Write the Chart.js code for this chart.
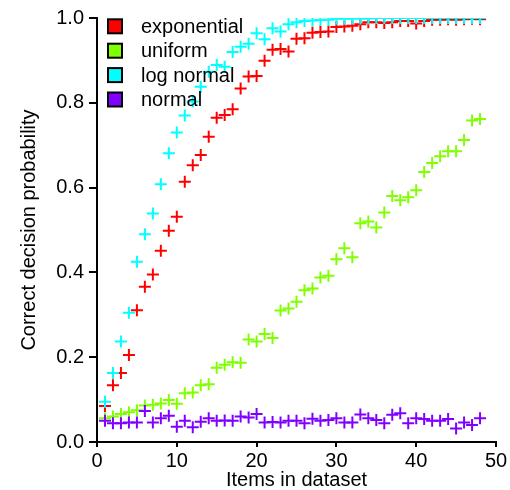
<!DOCTYPE html>
<html>
<head>
<meta charset="utf-8">
<script src="https://cdn.jsdelivr.net/npm/chart.js@4/dist/chart.umd.min.js"></script>
<style>
html,body{margin:0;padding:0;background:#fff;}
#wrap{width:510px;height:490px;}
</style>
</head>
<body>
<div id="wrap"><canvas id="c" width="510" height="490"></canvas></div>
<script>
const items = [1,2,3,4,5,6,7,8,9,10,11,12,13,14,15,16,17,18,19,20,21,22,23,24,25,26,27,28,29,30,31,32,33,34,35,36,37,38,39,40,41,42,43,44,45,46,47,48];

const seriesNames = ["exponential","uniform","log normal","normal"];

const exponential = [0.085,0.134,0.163,0.205,0.311,0.366,0.395,0.451,0.498,0.531,0.614,0.653,0.677,0.72,0.765,0.771,0.785,0.834,0.862,0.863,0.899,0.925,0.927,0.921,0.951,0.952,0.965,0.967,0.968,0.979,0.98,0.982,0.985,0.99,0.99,0.988,0.99,0.993,0.993,0.987,0.993,0.996,0.996,0.997,0.996,0.997,0.998,0.997];

const uniform = [0.056,0.06,0.066,0.07,0.075,0.086,0.088,0.091,0.099,0.09,0.115,0.117,0.134,0.136,0.175,0.182,0.188,0.187,0.242,0.237,0.255,0.245,0.31,0.315,0.331,0.358,0.362,0.388,0.392,0.431,0.457,0.436,0.516,0.52,0.506,0.541,0.58,0.57,0.577,0.594,0.637,0.658,0.674,0.686,0.686,0.712,0.758,0.762];

const logNormal = [0.095,0.163,0.237,0.305,0.425,0.49,0.539,0.608,0.681,0.73,0.77,0.803,0.838,0.873,0.889,0.885,0.92,0.932,0.939,0.964,0.95,0.976,0.968,0.985,0.99,0.993,0.994,0.995,0.996,0.998,0.998,0.999,0.999,0.999,1.0,1.0,1.0,1.0,1.0,1.0,1.0,1.0,1.0,1.0,1.0,1.0,1.0,1.0];

const normal = [0.05,0.044,0.044,0.046,0.046,0.073,0.046,0.056,0.062,0.036,0.05,0.035,0.048,0.056,0.05,0.051,0.05,0.06,0.058,0.066,0.046,0.047,0.046,0.05,0.05,0.044,0.055,0.05,0.052,0.056,0.046,0.046,0.065,0.056,0.052,0.044,0.064,0.068,0.044,0.056,0.054,0.05,0.05,0.054,0.032,0.046,0.04,0.056];

const colors = ["#ff0000","#80ff00","#00ffff","#8000ff"];
const seriesValues = [exponential, uniform, logNormal, normal];
const drawOrder = [4,3,2,1];

const xTicks = [0,10,20,30,40,50];
const yTicks = [0,0.2,0.4,0.6,0.8,1.0];

const FONT = "'Liberation Sans', Arial, Helvetica, sans-serif";

const datasets = seriesNames.map((name, i) => ({
  label: name,
  data: items.map((x, j) => ({x: x, y: seriesValues[i][j]})),
  borderColor: colors[i],
  backgroundColor: colors[i],
  pointStyle: 'cross',
  pointRadius: 6,
  pointHoverRadius: 6,
  pointBorderWidth: 2,
  pointHoverBorderWidth: 2,
  showLine: false,
  order: drawOrder[i]
}));

const legendPlugin = {
  id: 'boxLegend',
  afterDatasetsDraw(chart) {
    const ctx = chart.ctx;
    ctx.save();
    const x0 = 108, y0 = 26.3, step = 24.4, size = 14;
    ctx.font = "20px " + FONT;
    ctx.textBaseline = 'middle';
    ctx.textAlign = 'left';
    seriesNames.forEach((name, i) => {
      const cy = y0 + i * step;
      ctx.fillStyle = colors[i];
      ctx.fillRect(x0, cy - size/2, size, size);
      ctx.strokeStyle = '#000';
      ctx.lineWidth = 2;
      ctx.strokeRect(x0, cy - size/2, size, size);
      ctx.fillStyle = '#000';
      ctx.fillText(name, 141, cy + 1);
    });
    ctx.restore();
  }
};

new Chart(document.getElementById('c'), {
  type: 'scatter',
  data: { datasets },
  options: {
    responsive: false,
    animation: false,
    events: [],
    layout: { padding: { left: 0, right: 14, top: 18, bottom: 0 } },
    plugins: { legend: { display: false }, tooltip: { enabled: false } },
    scales: {
      x: {
        type: 'linear',
        min: 0, max: 50,
        afterFit(s) { s.height = 48; },
        afterBuildTicks(s) { s.ticks = xTicks.map(v => ({value: v})); },
        ticks: { color: '#000', font: { size: 20, family: FONT }, padding: 2, maxRotation: 0 },
        grid: { display: true, drawOnChartArea: false, drawTicks: true, tickLength: 5, color: '#000', lineWidth: 2 },
        border: { display: true, color: '#000', width: 2 },
        title: { display: true, text: 'Items in dataset', color: '#000', font: { size: 20, family: FONT, lineHeight: 1 }, padding: { top: 0, bottom: 0 } }
      },
      y: {
        type: 'linear',
        min: 0, max: 1,
        afterFit(s) { s.width = 97; },
        afterBuildTicks(s) { s.ticks = yTicks.map(v => ({value: v})); },
        ticks: { color: '#000', font: { size: 20, family: FONT }, padding: 5, callback: v => v.toFixed(1) },
        grid: { display: true, drawOnChartArea: false, drawTicks: true, tickLength: 8, color: '#000', lineWidth: 2 },
        border: { display: true, color: '#000', width: 2 },
        title: { display: true, text: 'Correct decision probability', color: '#000', font: { size: 20, family: FONT, lineHeight: 1 }, padding: { top: 19, bottom: 0 } }
      }
    }
  },
  plugins: [legendPlugin]
});
</script>
</body>
</html>
